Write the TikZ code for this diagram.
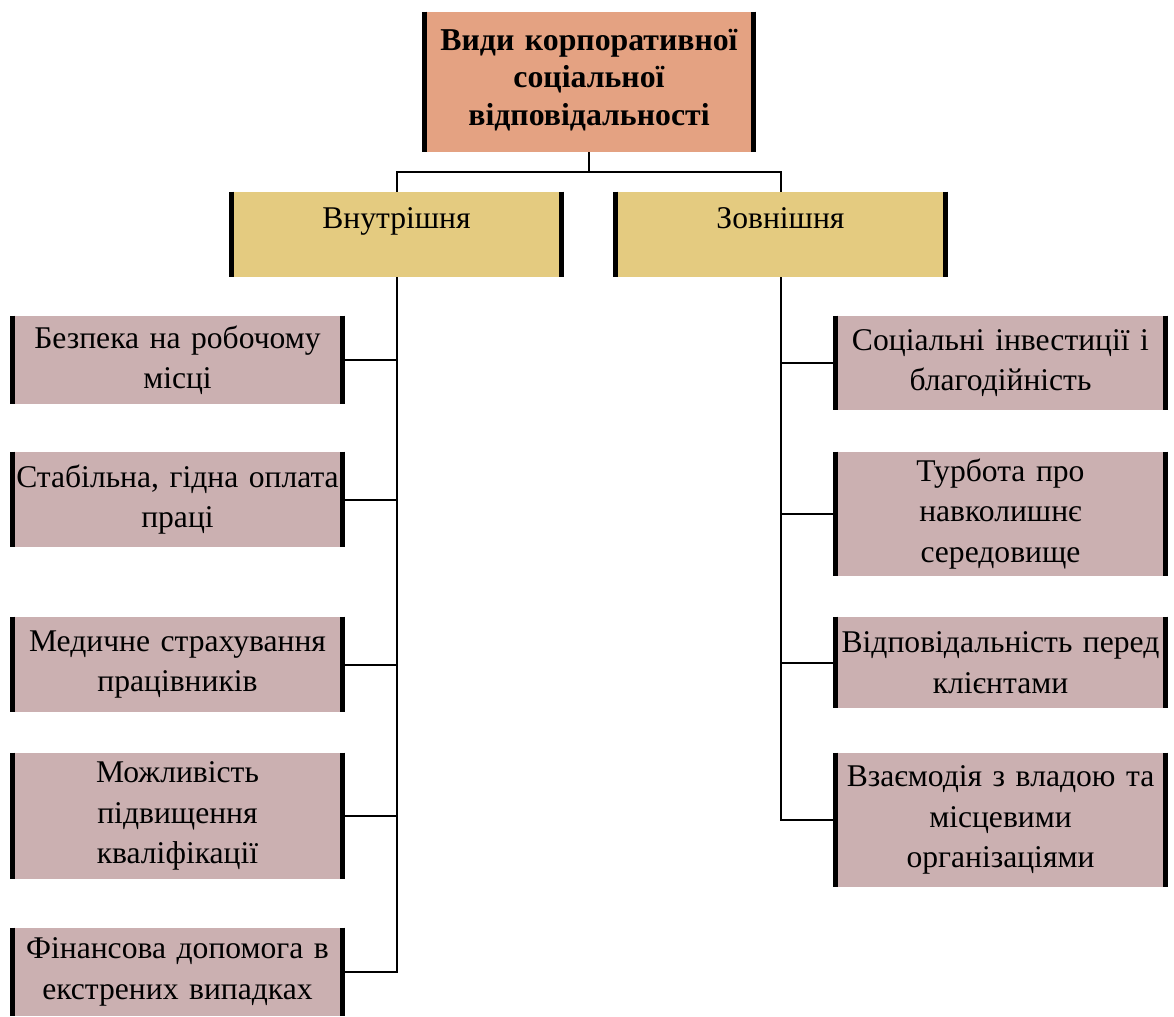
\documentclass[tikz,border=0pt]{standalone}
\usepackage{fontspec}
\setmainfont{Liberation Serif}
\usetikzlibrary{positioning}

\definecolor{topfill}{RGB}{228,162,130}
\definecolor{groupfill}{RGB}{228,203,128}
\definecolor{itemfill}{RGB}{203,176,177}

\tikzset{
    box/.style={fill=#1, inner xsep=2pt, inner ysep=0pt, align=center},
    item/.style={box=itemfill, minimum width=167.5pt, text width=163pt,
        font=\fontsize{15.8}{20.25}\selectfont},
    group/.style={box=groupfill, minimum width=167.5pt, text height=18pt, text depth=24.5pt,
        font=\fontsize{15.8}{20.25}\selectfont},
    bar/.style={line width=2.8pt},
    link/.style={line width=1pt}
}

\begin{document}
\begin{tikzpicture}[x=0.5pt, y=-0.5pt]
    \useasboundingbox (0,0) rectangle (1174,1017);

    % Top box
    \node[box=topfill, minimum width=167pt, text width=160pt, text height=19pt, text depth=51pt,
        font=\bfseries\fontsize{15.9}{18.75}\selectfont] (types) at (589,82)
        {Види корпоративної\\ соціальної\\ відповідальності};

    % Groups
    \node[group] (inner) at (396.5,234.5) {Внутрішня};
    \node[group] (outer) at (780.5,234.5) {Зовнішня};

    % Internal items
    \node[item, minimum height=44pt] (l1) at (177.5,360) {Безпека на робочому\\ місці};
    \node[item, minimum height=47.5pt] (l2) at (177.5,499.5) {Стабільна, гідна оплата\\ праці};
    \node[item, minimum height=47.5pt] (l3) at (177.5,664.5) {Медичне страхування\\ працівників};
    \node[item, minimum height=63pt] (l4) at (177.5,816) {Можливість\\ підвищення\\ кваліфікації};
    \node[item, minimum height=44pt] (l5) at (177.5,972) {Фінансова допомога в\\ екстрених випадках};

    % External items
    \node[item, minimum height=47pt] (r1) at (1000.5,363) {Соціальні інвестиції і\\ благодійність};
    \node[item, minimum height=62pt] (r2) at (1000.5,514) {Турбота про\\ навколишнє\\ середовище};
    \node[item, minimum height=45.5pt] (r3) at (1000.5,662.5) {Відповідальність перед\\ клієнтами};
    \node[item, minimum height=67pt] (r4) at (1000.5,820) {Взаємодія з владою та\\ місцевими\\ організаціями};

    % Side bars
    \foreach \n in {types,inner,outer,l1,l2,l3,l4,l5,r1,r2,r3,r4}
        \draw[bar] ([xshift=1.4pt]\n.north west) -- ([xshift=1.4pt]\n.south west)
            ([xshift=-1.4pt]\n.north east) -- ([xshift=-1.4pt]\n.south east);

    % Split under top box
    \coordinate (split) at (589,172);
    \draw[link] (types.south) -- (split);
    \draw[link] (inner.north) |- (split) -| (outer.north);

    % Internal branch
    \draw[link] (inner.south) |- (l5.east);
    \foreach \n in {l1,l2,l3,l4}
        \draw[link] (\n.east) -- (\n.east -| inner.south);

    % External branch
    \draw[link] (outer.south) |- (r4.west);
    \foreach \n in {r1,r2,r3}
        \draw[link] (\n.west) -- (\n.west -| outer.south);
\end{tikzpicture}
\end{document}
